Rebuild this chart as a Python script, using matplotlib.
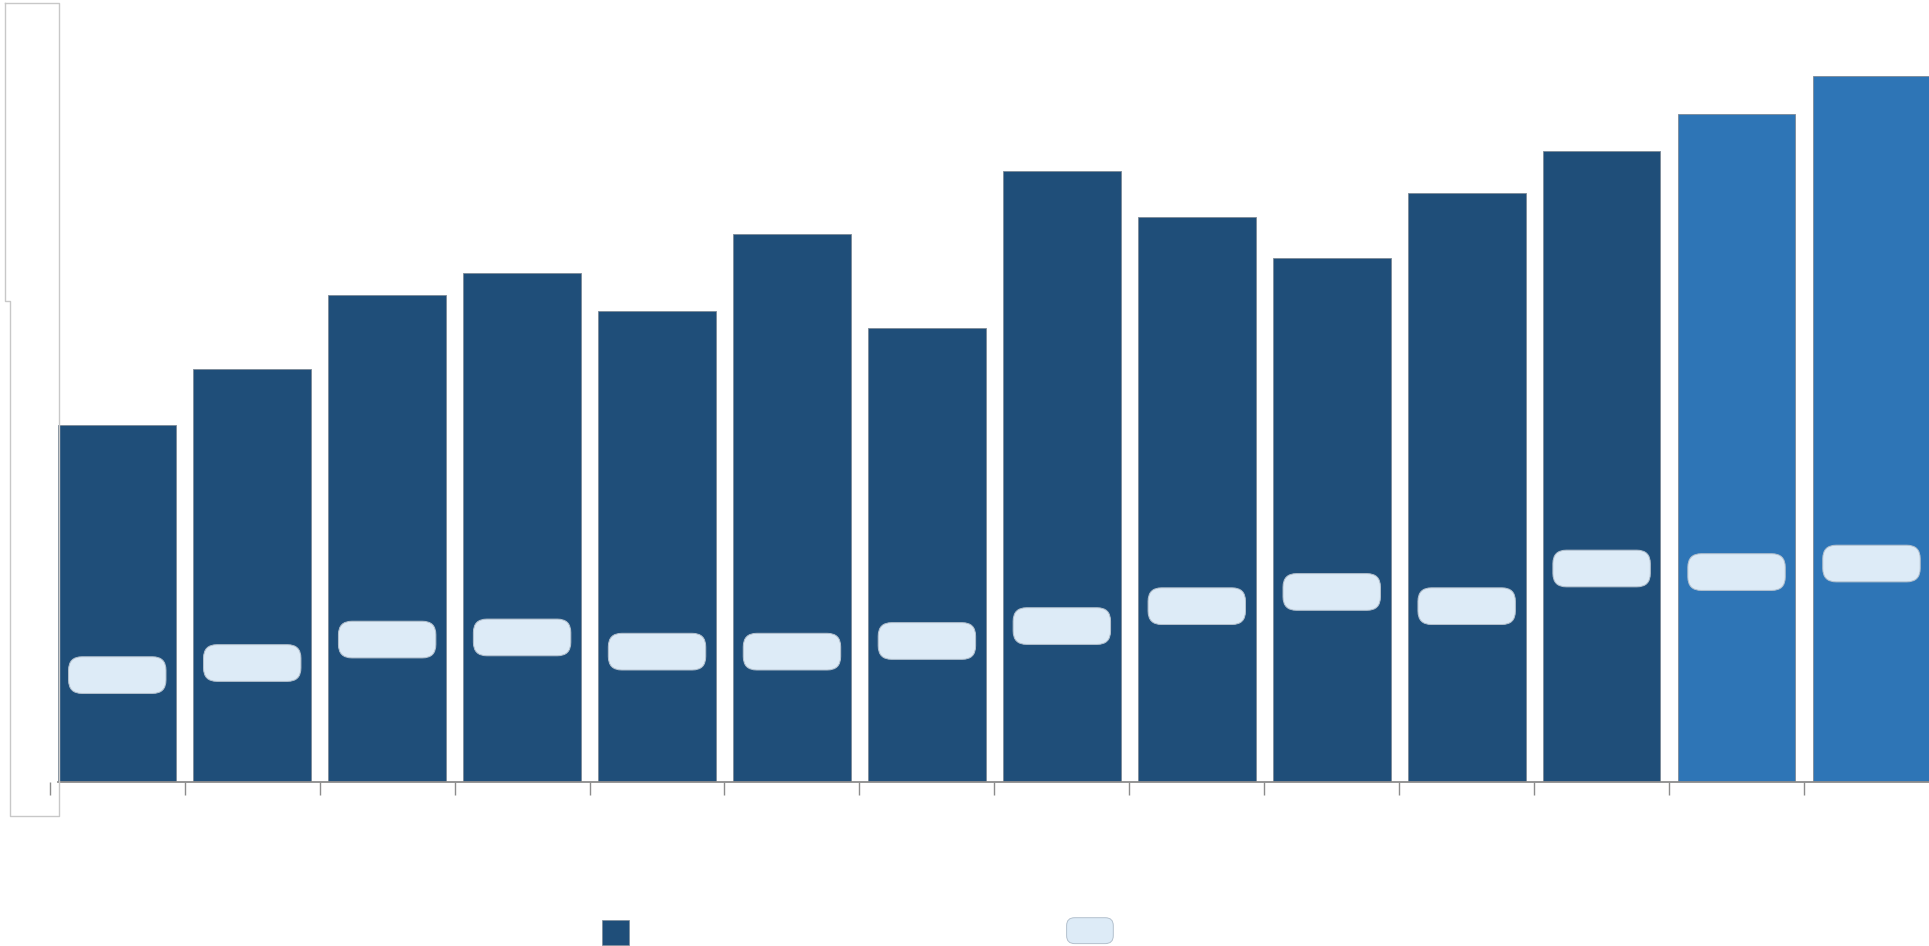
import numpy as np
from matplotlib import pyplot as plt
from matplotlib.patches import FancyBboxPatch, Rectangle
from matplotlib.lines import Line2D
from matplotlib.transforms import IdentityTransform

# values (no axis labels visible, arbitrary units)
bar_values = [50.2, 58.1, 68.5, 71.6, 66.2, 77.1, 63.8, 85.9, 79.4, 73.7, 82.8, 88.7, 93.9, 99.3]
marker_values = [15.0, 16.7, 20.0, 20.3, 18.3, 18.3, 19.8, 21.9, 24.7, 26.7, 24.7, 30.0, 29.5, 30.7]
highlight = [False] * 12 + [True] * 2

DARK = "#1F4E79"
LIGHT = "#2E75B6"
PALE = "#DDEBF7"

if __name__ == '__main__':
    W, H = 1929, 946
    fig = plt.figure(figsize=(W / 100, H / 100), dpi=100)

    # axes placed in pixels: category pitch ~134.9 px, baseline at y=781.7
    left_px, base_px, pitch = 49.8, 781.7, 134.94
    ax = fig.add_axes([left_px / W, (H - base_px) / H, 1 - left_px / W, base_px / H])
    ax.patch.set_alpha(0)

    x = np.arange(len(bar_values))
    colors = [LIGHT if h else DARK for h in highlight]
    ax.bar(x, bar_values, width=0.872, color=colors, edgecolor="#7d8a97", linewidth=0.6, zorder=2)

    ymax = 110
    xmax = -0.5 + (W - left_px) / pitch
    ax.set_xlim(-0.5, xmax)
    ax.set_ylim(0, ymax)

    # rounded boxes for the second series
    px_y = base_px / ymax
    aspect = pitch / px_y
    bw, bh = 0.722, 36.7 / px_y
    for xi, v in zip(x, marker_values):
        ax.add_patch(FancyBboxPatch((xi - bw / 2, v - bh / 2), bw, bh,
                                    boxstyle="round,pad=0,rounding_size=0.1",
                                    mutation_aspect=aspect, fc=PALE, ec="#b4c1ce",
                                    lw=0.7, zorder=3))

    for s in ["top", "right", "left"]:
        ax.spines[s].set_visible(False)
    ax.spines["bottom"].set_color("#8c8c8c")
    ax.spines["bottom"].set_linewidth(1.3)
    ax.spines["bottom"].set_bounds(-0.436, xmax)
    ax.set_xticks(np.arange(-0.5, len(bar_values) - 1, 1))
    ax.set_yticks([])
    ax.tick_params(axis="x", length=9, width=1, color="#8c8c8c", labelbottom=False)

    # faint outline of the empty y-axis panel on the left
    pts = [(5.3, 3.3), (58.7, 3.3), (58.7, 815.5), (9.7, 815.5), (9.7, 301), (5.3, 301), (5.3, 3.3)]
    fig.add_artist(Line2D([p[0] for p in pts], [H - p[1] for p in pts],
                          color="#c8c8c8", lw=1.0, transform=IdentityTransform()))

    # legend swatches
    fig.add_artist(Rectangle((601.6, H - 944.8), 27, 24.6, fc=DARK, ec="#7d8a97",
                             lw=0.5, transform=IdentityTransform()))
    fig.add_artist(FancyBboxPatch((1066.6, H - 943.6), 46.7, 25.9,
                                  boxstyle="round,pad=0,rounding_size=8",
                                  fc=PALE, ec="#b4c1ce", lw=0.7,
                                  transform=IdentityTransform()))

    fig.savefig("out.png", dpi=100)
